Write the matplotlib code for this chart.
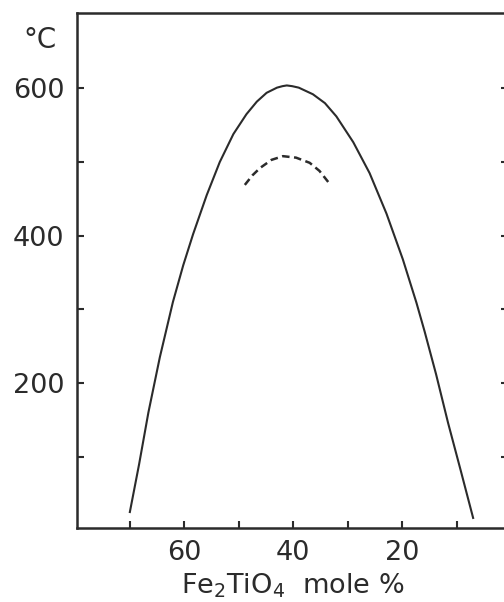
import matplotlib.pyplot as plt

# Solvus curve (Fe2TiO4 mole %, temperature °C)
solvus_x = [70.0, 68.3, 66.6, 64.5, 62.1, 60.2, 58.4, 55.9, 53.5, 51.0, 48.6, 46.7,
            44.9, 43.0, 42.0, 41.2, 40.2, 39.0, 36.4, 34.2, 32.1, 29.0, 26.0,
            22.9, 19.9, 17.4, 15.9, 13.8, 11.6, 9.3, 7.0]
solvus_y = [25, 90, 160, 235, 310, 360, 402, 455, 500, 538, 565, 582,
            594, 601, 603, 604, 603, 601, 592, 580, 562, 527, 485,
            430, 368, 309, 270, 212, 146, 82, 17]

# Dashed inner curve
inner_x = [48.9, 47.5, 46.1, 44.0, 41.9, 39.5, 37.0, 35.2, 33.6]
inner_y = [469, 482, 492, 503, 508, 506, 499, 488, 473]

x_ticks = [70, 60, 50, 40, 30, 20, 10]
x_labels = ['', '60', '', '40', '', '20', '']
y_ticks = [100, 200, 300, 400, 500, 600]
y_labels = ['', '200', '', '400', '', '600']

ink = '#2b2b2b'

fig = plt.figure(figsize=(5.04, 6.02), dpi=100)
ax = fig.add_axes([77 / 504, 74.5 / 602, 431 / 504, 515 / 602])

ax.plot(solvus_x, solvus_y, color=ink, lw=1.5, solid_joinstyle='round')
ax.plot(inner_x, inner_y, color=ink, lw=1.8, dashes=(3, 1.8))

ax.set_xlim(79.7, 0.6)
ax.set_ylim(4, 703)

ax.set_xticks(x_ticks)
ax.set_xticklabels(x_labels)
ax.set_yticks(y_ticks)
ax.set_yticklabels(y_labels)
ax.tick_params(direction='in', length=5, width=1.5, color=ink, labelsize=19.5,
               labelcolor=ink, pad=9, right=True, top=False)

for s in ax.spines.values():
    s.set_linewidth(1.8)
    s.set_color(ink)

ax.set_xlabel(r'Fe$_2$TiO$_4$  mole %', fontsize=19.5, color=ink, labelpad=4)
fig.text(40 / 504, 1 - 40 / 602, '°C', fontsize=20, color=ink, ha='center', va='center')

fig.savefig('out.png', dpi=100)
